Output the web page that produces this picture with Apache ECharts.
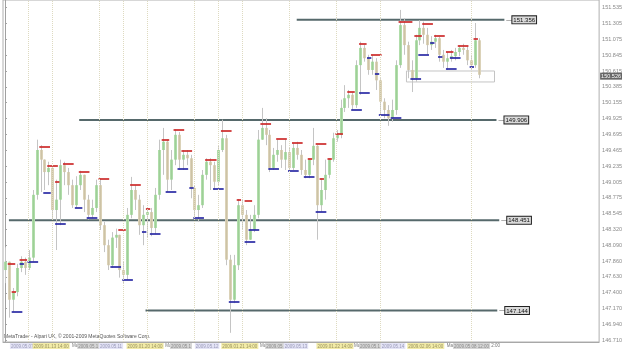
<!DOCTYPE html>
<html>
<head>
<meta charset="utf-8">
<script src="https://cdn.jsdelivr.net/npm/echarts@6/dist/echarts.min.js"></script>
<style>
  html, body { margin: 0; padding: 0; background: #fff; }
  #chart { width: 625px; height: 350px; }
</style>
</head>
<body>
<div id="chart"></div>
<script>
// bar-by-bar prices (bar index = position on the x axis)
const opens = [
  147.73, 147.85, 147.30, 147.41, 147.76, 147.85, 147.76, 147.91, 148.82, 149.47,
  149.33, 149.15, 149.21, 148.60, 148.75, 149.25, 149.15, 148.96, 148.67, 148.96,
  149.11, 148.75, 148.53, 148.63, 148.96, 148.38, 148.09, 147.80, 148.20, 148.24,
  147.73, 147.66, 148.53, 148.89, 148.75, 148.38, 148.53, 148.57, 148.34, 148.82,
  149.47, 149.59, 149.04, 149.33, 149.69, 149.33, 149.40, 149.35, 148.92, 148.60,
  148.67, 149.11, 149.30, 149.25, 149.01, 149.47, 149.64, 147.88, 147.30, 147.80,
  148.67, 148.53, 148.17, 148.31, 148.53, 149.62, 149.79, 149.69, 149.21, 149.40,
  149.47, 149.33, 149.44, 149.21, 149.50, 149.40, 149.18, 149.11, 149.33, 149.53,
  148.67, 148.89, 149.11, 149.33, 149.64, 149.69, 150.08, 150.22, 150.27, 150.12,
  150.70, 150.95, 150.80, 150.63, 150.75, 150.48, 150.17, 150.05, 149.93, 150.05,
  150.70, 151.28, 150.99, 150.63, 150.51, 151.06, 151.24, 151.14, 150.99, 151.04,
  151.09, 150.85, 150.75, 150.80, 150.83, 150.89, 150.95, 150.92, 150.77, 150.70,
  151.06
];
const closes = [
  147.85, 147.30, 147.41, 147.76, 147.85, 147.76, 147.91, 148.82, 149.47, 149.33,
  149.15, 149.21, 148.60, 148.75, 149.25, 149.15, 148.96, 148.67, 148.96, 149.11,
  148.75, 148.53, 148.63, 148.96, 148.38, 148.09, 147.80, 148.20, 148.24, 147.73,
  147.66, 148.53, 148.89, 148.75, 148.38, 148.53, 148.57, 148.34, 148.82, 149.47,
  149.59, 149.04, 149.33, 149.69, 149.33, 149.40, 149.35, 148.92, 148.60, 148.67,
  149.11, 149.30, 149.25, 149.01, 149.47, 149.64, 147.88, 147.30, 147.80, 148.67,
  148.53, 148.17, 148.31, 148.53, 149.62, 149.79, 149.69, 149.21, 149.40, 149.47,
  149.33, 149.44, 149.21, 149.50, 149.40, 149.18, 149.11, 149.33, 149.53, 148.67,
  148.89, 149.11, 149.33, 149.64, 149.69, 150.08, 150.22, 150.27, 150.12, 150.70,
  150.95, 150.80, 150.63, 150.75, 150.48, 150.17, 150.05, 149.93, 150.05, 150.70,
  151.28, 150.99, 150.63, 150.51, 151.06, 151.24, 151.14, 150.99, 151.04, 151.09,
  150.85, 150.75, 150.80, 150.83, 150.89, 150.95, 150.92, 150.77, 150.70, 151.06,
  150.56
];
const highs = [
  148.06, 147.85, 147.47, 147.82, 147.93, 147.91, 148.02, 148.89, 149.62, 149.54,
  149.33, 149.30, 149.21, 149.04, 149.33, 149.30, 149.21, 149.04, 149.09, 149.17,
  149.11, 148.82, 148.75, 149.04, 149.06, 148.43, 148.17, 148.28, 148.33, 148.24,
  147.85, 148.63, 149.08, 148.96, 148.82, 148.67, 148.63, 148.63, 148.92, 149.62,
  149.79, 149.62, 149.47, 149.77, 149.73, 149.47, 149.47, 149.40, 148.96, 148.82,
  149.18, 149.35, 149.35, 149.30, 149.54, 149.91, 149.69, 147.95, 147.95, 148.76,
  148.75, 148.60, 148.53, 148.67, 149.76, 150.08, 149.93, 149.76, 149.50, 149.62,
  149.54, 149.62, 149.50, 149.57, 149.59, 149.47, 149.33, 149.35, 149.79, 149.54,
  149.06, 149.33, 149.35, 149.72, 149.76, 150.20, 150.41, 150.34, 150.31, 150.77,
  151.04, 150.99, 150.85, 150.85, 150.80, 150.51, 150.22, 150.12, 150.20, 150.77,
  151.50, 151.38, 151.04, 150.77, 151.14, 151.35, 151.33, 151.24, 151.12, 151.14,
  151.11, 150.92, 150.89, 150.92, 150.95, 150.99, 151.01, 150.98, 150.85, 151.31,
  151.09
];
const lows = [
  147.54, 147.04, 147.12, 147.35, 147.70, 147.66, 147.73, 147.85, 148.75, 148.86,
  148.89, 148.96, 148.46, 148.02, 148.38, 148.96, 148.82, 148.63, 148.63, 148.89,
  148.57, 148.46, 148.48, 148.57, 148.31, 147.99, 147.73, 147.76, 148.05, 147.62,
  147.53, 147.59, 148.48, 148.60, 148.24, 148.09, 148.20, 148.22, 148.25, 148.75,
  149.11, 148.86, 148.89, 149.25, 149.18, 149.18, 149.25, 148.77, 148.48, 148.43,
  148.63, 149.04, 148.89, 148.89, 148.96, 149.44, 147.80, 146.82, 147.25, 147.73,
  148.31, 148.09, 148.17, 148.28, 148.48, 149.62, 149.54, 149.15, 149.18, 149.30,
  149.21, 149.18, 149.15, 149.18, 149.33, 149.11, 149.06, 149.06, 149.25, 148.17,
  148.57, 148.75, 149.06, 149.30, 149.59, 149.64, 150.02, 150.08, 150.05, 150.08,
  150.27, 150.75, 150.56, 150.56, 150.34, 149.98, 149.93, 149.82, 149.88, 149.98,
  150.66, 150.85, 150.51, 150.31, 150.46, 150.99, 151.01, 150.85, 150.92, 150.95,
  150.75, 150.66, 150.63, 150.75, 150.77, 150.83, 150.85, 150.70, 150.64, 150.66,
  150.51
];

// short pivot markers: [bar, price, bars it lasts]
const upMarks = [
  [1, 147.82, 2], [2, 147.41, 1], [4, 147.88, 2], [9, 149.51, 3], [11, 149.24, 3],
  [13, 149.01, 1], [15, 149.27, 3], [19, 149.15, 3], [24, 149.05, 3], [29, 148.31, 2],
  [32, 148.96, 3], [36, 148.61, 1], [40, 149.62, 2], [43, 149.76, 3], [45, 149.46, 3],
  [51, 149.33, 1], [52, 149.33, 2], [55, 149.75, 3], [59, 148.75, 1], [61, 148.73, 2],
  [65, 149.85, 3], [69, 149.63, 3], [73, 149.57, 3], [77, 149.34, 1], [79, 149.56, 3],
  [80, 149.05, 1], [82, 149.34, 1], [84, 149.70, 2], [87, 150.31, 2], [90, 151.01, 2],
  [93, 150.85, 3], [100, 151.33, 4], [104, 151.12, 2], [106, 151.30, 3], [109, 151.12, 3],
  [112, 150.89, 2], [115, 150.98, 3], [119, 151.08, 1]
];
const downMarks = [
  [2, 147.12, 3], [4, 147.82, 1], [6, 147.85, 3], [10, 148.85, 2], [13, 148.40, 3],
  [18, 148.63, 2], [21, 148.48, 3], [27, 147.77, 3], [30, 147.59, 3], [35, 148.28, 1],
  [37, 148.25, 3], [41, 148.86, 3], [44, 149.19, 3], [47, 148.92, 1], [48, 148.48, 3],
  [53, 148.90, 3], [57, 147.27, 3], [61, 148.14, 3], [62, 148.31, 3], [67, 149.19, 3],
  [72, 149.17, 3], [76, 149.08, 3], [79, 148.57, 3], [88, 150.05, 3], [90, 150.30, 3],
  [92, 150.80, 1], [94, 150.57, 1], [95, 149.98, 3], [98, 149.93, 3], [103, 150.50, 3],
  [105, 150.85, 3], [108, 151.02, 1], [110, 150.82, 1], [112, 150.64, 3], [113, 150.80, 3],
  [118, 150.67, 1]
];

// horizontal levels
const levelPrices = [151.356, 149.906, 148.451, 147.144];
const levelFrom = [73.9, 18.8, 1.0, 35.6];
const levelTo = [126.5, 124.5, 125.2, 124.7];

// consolidation box
const zoneBars = [101.7, 124.0];
const zonePrices = [150.615, 150.456];

const bidPrice = 150.54;
const bidText = '150.526';

// session separators (bar index)
const gridDays = [6, 12, 24, 30, 36, 48, 54, 60, 72, 84, 95, 118];

// price scale ticks
const priceTicks = [
  151.535, 151.305, 151.075, 150.845, 150.615, 150.385, 150.155, 149.925,
  149.695, 149.465, 149.235, 149.005, 148.775, 148.545, 148.320, 148.090,
  147.860, 147.630, 147.400, 147.170, 146.940, 146.710
];

// time scale labels
const dateTickAt = [0, 1.25, 7.0, 17.0, 18.3, 23.8, 30.8, 40.6, 41.8, 48.1, 54.8, 64.6,
  65.9, 70.6, 78.9, 88.4, 89.7, 95.2, 101.9, 111.9, 113.5, 123.2];
const dateTickText = ['07 May', '2009.05.07', '2009.01.13 14:00', 'May', '2009.05.1', '2009.05.11',
  '2009.01.20 14:00', 'May', '2009.05.1', '2009.05.12', '2009.01.21 14:00', 'May',
  '2009.05.1', '2009.05.13', '2009.01.22 14:00', 'Ma', '2009.05.1', '2009.05.14',
  '2009.02.06 14:00', 'Ma', '2009.05.08 12:00', '2:00'];
const dateTickKind = ['gry', 'lav', 'yel', 'pln', 'gry', 'lav', 'yel', 'pln', 'gry', 'lav', 'yel',
  'pln', 'gry', 'lav', 'yel', 'pln', 'gry', 'lav', 'yel', 'pln', 'gry', 'pln'];

const FONT = 'Liberation Sans';

const candleData = opens.map((o, i) => [i, o, closes[i], lows[i], highs[i]]);

function renderCandle(params, api) {
  const i = api.value(0);
  const o = api.coord([i, api.value(1)]);
  const c = api.coord([i, api.value(2)]);
  const l = api.coord([i, api.value(3)]);
  const h = api.coord([i, api.value(4)]);
  const x = Math.round(o[0]) + 0.5;
  const up = api.value(2) >= api.value(1);
  const top = Math.min(o[1], c[1]);
  const ht = Math.max(Math.abs(o[1] - c[1]), 1);
  return {
    type: 'group',
    children: [
      { type: 'line', shape: { x1: x, y1: h[1], x2: x, y2: l[1] }, style: { stroke: '#c4c4c4', lineWidth: 1 } },
      { type: 'rect', shape: { x: x - 1.5, y: top, width: 3, height: ht }, style: { fill: up ? '#b0ddaa' : '#dbd2b8' } },
      { type: 'line', shape: { x1: x, y1: top, x2: x, y2: top + ht }, style: { stroke: up ? '#9fcf98' : '#cdc3a6', lineWidth: 1 } }
    ]
  };
}

function markRenderer(color) {
  return function (params, api) {
    const a = api.coord([api.value(0) - 0.3, api.value(1)]);
    const b = api.coord([api.value(0) + api.value(2) * 0.8, api.value(1)]);
    const y = Math.round(a[1]);
    return { type: 'line', shape: { x1: a[0], y1: y, x2: b[0], y2: y }, style: { stroke: color, lineWidth: 2, opacity: 0.85 } };
  };
}

const levelSeries = levelPrices.map((p, k) => ({
  type: 'line',
  data: [[levelFrom[k], p], [levelTo[k], p]],
  symbol: 'none',
  silent: true,
  z: 1,
  lineStyle: { color: '#56696b', width: 2 },
  endLabel: {
    show: true,
    distance: 2,
    formatter: '{d|\u2014}{b|' + p.toFixed(3) + '}',
    rich: {
      d: { fontSize: 6, color: '#333', fontFamily: FONT },
      b: {
        fontSize: 6, color: '#111', fontFamily: FONT,
        backgroundColor: '#dadada', borderColor: '#222', borderWidth: 1, padding: [1, 1, 0, 1]
      }
    }
  }
}));

// separators, bid box and consolidation box hang on the first level line
levelSeries[0].markLine = {
  silent: true,
  symbol: ['none', 'none'],
  animation: false,
  data: gridDays.map(d => ({ xAxis: d, lineStyle: { type: 'dotted', color: '#dedac0', width: 1 }, label: { show: false } }))
    .concat([{
      yAxis: bidPrice,
      lineStyle: { color: 'transparent', width: 0 },
      label: {
        show: true, position: 'end', distance: 1, formatter: bidText,
        fontSize: 5.5, fontFamily: FONT, color: '#fff', backgroundColor: '#666', padding: [1, 1, 0, 1]
      }
    }])
};
levelSeries[0].markArea = {
  silent: true,
  itemStyle: { color: 'rgba(0,0,0,0)', borderColor: '#c4c4c4', borderWidth: 1 },
  data: [[{ coord: [zoneBars[0], zonePrices[0]] }, { coord: [zoneBars[1], zonePrices[1]] }]]
};

const chart = echarts.init(document.getElementById('chart'));
chart.setOption({
  animation: false,
  backgroundColor: '#ffffff',
  grid: { left: 3, right: 19, top: 0, bottom: 8, show: true, borderColor: '#b0b0b0', borderWidth: 1 },
  xAxis: {
    type: 'value',
    min: -0.5,
    max: 150.5,
    axisLine: { show: true, lineStyle: { color: '#a8a8a8' } },
    axisTick: { show: false },
    splitLine: { show: false },
    axisLabel: {
      customValues: dateTickAt,
      margin: 1,
      align: 'left',
      fontSize: 4.5,
      fontFamily: FONT,
      formatter: function (v) {
        const k = dateTickAt.indexOf(v);
        if (k < 0) return '';
        return '{' + dateTickKind[k] + '|' + dateTickText[k] + '}';
      },
      rich: {
        lav: { fontSize: 4.5, fontFamily: FONT, color: '#9a9ab8', backgroundColor: '#e4e4f6', padding: [1, 1, 0, 1] },
        yel: { fontSize: 4.5, fontFamily: FONT, color: '#9a9460', backgroundColor: '#f2eba8', padding: [1, 1, 0, 1] },
        gry: { fontSize: 4.5, fontFamily: FONT, color: '#8a8a8a', backgroundColor: '#d6d6d6', padding: [1, 1, 0, 1] },
        pln: { fontSize: 4.5, fontFamily: FONT, color: '#777' }
      }
    }
  },
  yAxis: {
    type: 'value',
    position: 'right',
    min: 146.687,
    max: 151.644,
    axisLine: { show: true, lineStyle: { color: '#a0a0a0' } },
    axisTick: { show: true, length: 2, customValues: priceTicks, lineStyle: { color: '#a0a0a0' } },
    splitLine: { show: false },
    axisLabel: {
      customValues: priceTicks,
      margin: 3,
      fontSize: 5.5,
      fontFamily: FONT,
      color: '#8a8a8a',
      formatter: v => v.toFixed(3)
    }
  },
  graphic: [{
    type: 'text',
    left: 4,
    top: 334,
    style: {
      text: 'MetaTrader - Alpari UK, \u00a9 2001-2009 MetaQuotes Software Corp.',
      fontSize: 5, fontFamily: FONT, fill: '#555'
    }
  }],
  series: levelSeries.concat([
    {
      type: 'custom',
      name: 'bars',
      data: candleData,
      encode: { x: 0, y: [1, 2, 3, 4] },
      renderItem: renderCandle,
      silent: true,
      z: 2
    },
    {
      type: 'custom',
      name: 'highs',
      data: upMarks,
      encode: { x: 0, y: 1 },
      renderItem: markRenderer('#cc2a2a'),
      silent: true,
      z: 3
    },
    {
      type: 'custom',
      name: 'lows',
      data: downMarks,
      encode: { x: 0, y: 1 },
      renderItem: markRenderer('#2a2aa4'),
      silent: true,
      z: 3
    }
  ])
});
</script>
</body>
</html>
